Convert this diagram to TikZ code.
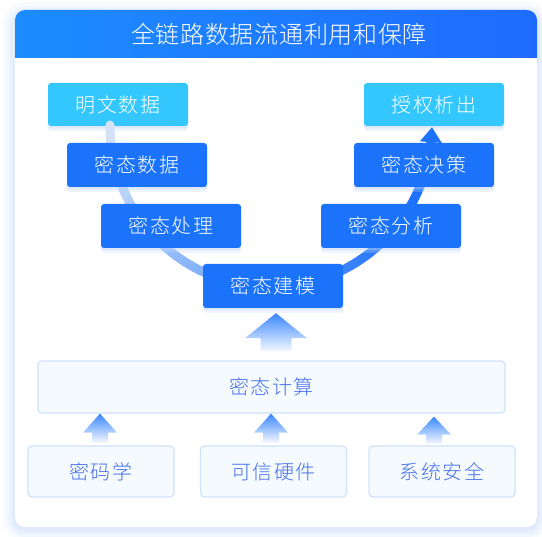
\documentclass[tikz,border=0pt]{standalone}
\usepackage{fontspec}
\setmainfont{Noto Sans CJK SC}[UprightFont={* Light}]
\usetikzlibrary{calc,arrows.meta,shadows}
\definecolor{hdrL}{HTML}{1C8CFF}
\definecolor{hdrR}{HTML}{1F6BFF}
\definecolor{nodeblue}{HTML}{1B73FB}
\definecolor{nodecyan}{HTML}{33C7FE}
\definecolor{lightfill}{HTML}{F5FAFF}
\definecolor{lightline}{HTML}{CFE2FB}
\definecolor{lighttext}{HTML}{4670E8}
\definecolor{arcA}{HTML}{D3E2F7}
\definecolor{arcB}{HTML}{1D72FB}
\definecolor{glow}{HTML}{BFD6FA}
\definecolor{arrowtop}{HTML}{3A87FF}
\definecolor{arrowmid}{HTML}{8DBAFF}
\definecolor{arrowbot}{HTML}{F4F8FF}
\tikzset{
  boxtext/.style={font=\fontsize{20}{24}\selectfont\addfontfeature{LetterSpace=8},
    text height=17.6pt, text depth=2.4pt, inner sep=0pt},
  solidbox/.style={boxtext, rounded corners=3pt, minimum width=140pt, minimum height=44pt, text=white,
    general shadow={fill=glow, shadow yshift=-5pt, opacity=0.25},
    general shadow={fill=glow, shadow yshift=-2.5pt, opacity=0.35}},
  darkbox/.style={solidbox, fill=nodeblue},
  cyanbox/.style={solidbox, fill=nodecyan},
  lightbox/.style={boxtext, rounded corners=4pt, draw=lightline, line width=1.2pt, fill=lightfill, text=lighttext},
  fatshade/.style={top color=arrowtop, middle color=arrowmid, bottom color=arrowbot}
}
% #1 tip, #2 half head width, #3 half shaft width, #4 head length, #5 total length
\newcommand\fatarrow[5]{%
  \shade[fatshade] let \p1=(#1) in
    (\x1,\y1) -- (\x1+#2pt,\y1-#4pt) -- (\x1+#3pt,\y1-#4pt) -- (\x1+#3pt,\y1-#5pt)
    -- (\x1-#3pt,\y1-#5pt) -- (\x1-#3pt,\y1-#4pt) -- (\x1-#2pt,\y1-#4pt) -- cycle;}
\begin{document}
\begin{tikzpicture}[x=1pt,y=-1pt]
\useasboundingbox (0,0) rectangle (542,537);
% panel glow
\foreach \i/\o in {12/0.10,8/0.14,5/0.18,2/0.22}{
  \pgfmathsetmacro\rr{10+\i}
  \fill[glow, opacity=\o, rounded corners=\rr pt] (15-\i,10-\i+4) rectangle (537+\i,527+\i+2);
}
\begin{scope}
  \clip[rounded corners=10pt] (15,10) rectangle (537,527);
  \fill[white] (15,10) rectangle (537,527);
  \shade[left color=hdrL, right color=hdrR] (15,10) rectangle (537,58);
\end{scope}
\node[text=white, font=\fontsize{24}{28}\selectfont\addfontfeature{LetterSpace=3},
  text height=21pt, text depth=3pt, inner sep=0pt] (title) at (279,35) {全链路数据流通利用和保障};

% top nodes
\node[cyanbox, minimum height=43pt] (m1) at (118,104.5) {明文数据};
\node[cyanbox, minimum height=43pt] (out) at (434,104.5) {授权析出};

% U-shaped flow
\coordinate (ac) at (271,125);
\foreach \t in {180,178,...,10}{
  \pgfmathsetmacro\tb{\t-2}
  \pgfmathsetmacro\f{(180-\t)/180}
  \pgfmathsetmacro\p{max(0,min(100,135*\f-5))}
  \draw[line width=9pt, line cap=round, color=arcB!\p!arcA]
    ($(ac)+({161*cos(\t)},{162*sin(\t)})$) -- ($(ac)+({161*cos(\tb)},{162*sin(\tb)})$);
}
\draw[line width=9pt, color=arcB, -{Triangle[width=21pt,length=15pt]}]
  ($(ac)+({161*cos(8)},{162*sin(8)})$) -- ($(out.south)+(-2,1)$);

% dark nodes
\node[darkbox] (d1) at (137,165) {密态数据};
\node[darkbox] (d2) at (171,226) {密态处理};
\node[darkbox] (d3) at (273,286) {密态建模};
\node[darkbox] (d4) at (391,226) {密态分析};
\node[darkbox] (d5) at (424,165) {密态决策};

% computing layer
\node[lightbox, minimum width=467pt, minimum height=52pt] (calc) at (271.5,387) {密态计算};
\node[lightbox, minimum width=146pt, minimum height=51pt] (b1) at (101,471.5) {密码学};
\node[lightbox, minimum width=146pt, minimum height=51pt] (b2) at (273.5,471.5) {可信硬件};
\node[lightbox, minimum width=146pt, minimum height=51pt] (b3) at (442,471.5) {系统安全};

% fat arrows
\coordinate (ta) at ($(d3.south)+(3,5)$);
\fatarrow{ta}{31}{15.5}{25}{38}
\coordinate (t1) at ($(calc.south -| b1)+(-1,0)$);
\coordinate (t2) at ($(calc.south -| b2)+(-2.5,0)$);
\coordinate (t3) at ($(calc.south -| b3)+(-8,3)$);
\fatarrow{t1}{17}{8}{19}{29}
\fatarrow{t2}{17}{8}{19}{29}
\fatarrow{t3}{17}{8}{18}{27}
\end{tikzpicture}
\end{document}
